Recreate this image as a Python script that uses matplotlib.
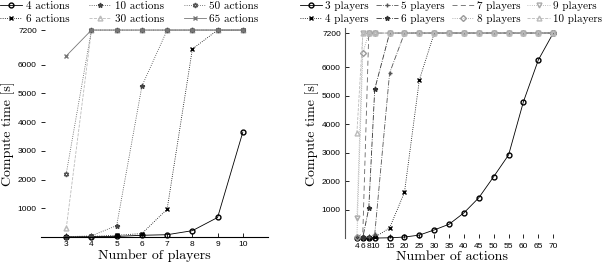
import matplotlib
matplotlib.use("Agg")
import matplotlib.pyplot as plt

# ---- left panel: time vs number of players, one line per action count
players = [3, 4, 5, 6, 7, 8, 9, 10]
t_4act = [5, 10, 20, 60, 80, 220, 680, 3650]
t_6act = [5, 20, 60, 120, 970, 6540, 7200, 7200]
t_10act = [10, 40, 400, 5250, 7200, 7200, 7200, 7200]
t_30act = [300, 7200, 7200, 7200, 7200, 7200, 7200, 7200]
t_50act = [2200, 7200, 7200, 7200, 7200, 7200, 7200, 7200]
t_65act = [6300, 7200, 7200, 7200, 7200, 7200, 7200, 7200]

# ---- right panel: time vs number of actions, one line per player count
actions = [4, 6, 8, 10, 15, 20, 25, 30, 35, 40, 45, 50, 55, 60, 65, 70]
t_3pl = [5, 5, 10, 15, 25, 50, 120, 300, 500, 900, 1430, 2170, 2930, 4800, 6260, 7200]
t_4pl = [5, 10, 20, 40, 370, 1620, 5560] + [7200] * 9
t_5pl = [5, 20, 60, 150, 5800] + [7200] * 11
t_6pl = [10, 40, 1060, 5235] + [7200] * 12
t_7pl = [20, 200] + [7200] * 14
t_8pl = [60, 6500] + [7200] * 14
t_9pl = [710] + [7200] * 15
t_10pl = [3690] + [7200] * 15

yticks = [1000, 2000, 3000, 4000, 5000, 6000, 7200]
right_xticks = [4, 6, 8, 10, 15, 20, 25, 30, 35, 40, 45, 50, 55, 60, 65, 70]

serif = "cmr10"
tickfont = "Liberation Sans"

fig = plt.figure(figsize=(6.12, 2.66), dpi=100)
ax1 = fig.add_axes([0.067, 0.109, 0.371, 0.778])
ax2 = fig.add_axes([0.5637, 0.1034, 0.350, 0.7916])

lw = 0.6
ms = 3.5

ax1.plot(players, t_4act, "-", marker="o", color="black", lw=lw, ms=ms, mfc="none", label="4 actions", clip_on=False)
ax1.plot(players, t_6act, ":", marker="x", color="black", lw=lw, ms=ms, label="6 actions", clip_on=False)
ax1.plot(players, t_10act, ":", marker="*", color="#444444", lw=lw, ms=ms, label="10 actions", clip_on=False)
ax1.plot(players, t_30act, "--", marker="^", color="#bbbbbb", lw=lw, ms=ms, mfc="none", label="30 actions", clip_on=False)
ax1.plot(players, t_50act, ":", marker=(6, 1, 0), color="#555555", lw=lw, ms=ms, mfc="none", label="50 actions", clip_on=False)
ax1.plot(players, t_65act, "-", marker="x", color="#777777", lw=lw, ms=ms, label="65 actions", clip_on=False)

ax1.set_xlim(2, 11)
ax1.set_ylim(0, 7200)
ax1.set_xticks(players)
ax1.set_yticks(yticks)
ax1.spines[["left", "top", "right"]].set_visible(False)
ax1.set_xlabel("Number of players", fontfamily=serif, fontsize=10, labelpad=1)
ax1.set_ylabel("Compute time [s]", fontfamily=serif, fontsize=10, labelpad=2)

ax2.plot(actions, t_3pl, "-", marker="o", color="black", lw=lw, ms=ms, mfc="none", label="3 players", clip_on=False)
ax2.plot(actions, t_4pl, ":", marker="x", color="black", lw=lw, ms=ms, label="4 players", clip_on=False)
ax2.plot(actions, t_5pl, "-.", marker="+", color="#555555", lw=lw, ms=ms, label="5 players", clip_on=False)
ax2.plot(actions, t_6pl, "-.", marker="*", color="#333333", lw=lw, ms=ms, label="6 players", clip_on=False)
ax2.plot(actions, t_7pl, ls=(0, (6, 4)), color="#666666", lw=lw, label="7 players", clip_on=False)
ax2.plot(actions, t_8pl, ":", marker="D", color="#999999", lw=lw, ms=3, mfc="none", label="8 players", clip_on=False)
ax2.plot(actions, t_9pl, ":", marker="v", color="#aaaaaa", lw=lw, ms=ms, mfc="none", label="9 players", clip_on=False)
ax2.plot(actions, t_10pl, "--", marker="^", color="#bbbbbb", lw=lw, ms=ms, mfc="none", label="10 players", clip_on=False)

ax2.set_xlim(0, 72)
ax2.set_ylim(0, 7380)
ax2.set_xticks(right_xticks)
ax2.set_yticks(yticks)
ax2.spines[["bottom", "top", "right"]].set_visible(False)
ax2.spines["left"].set_color("#555555")
ax2.set_xlabel("Number of actions", fontfamily=serif, fontsize=10, labelpad=1)
ax2.set_ylabel("Compute time [s]", fontfamily=serif, fontsize=10, labelpad=2)

for ax in (ax1, ax2):
    ax.tick_params(direction="in", length=3, width=0.6, labelsize=6, pad=3)
    for lab in ax.get_xticklabels() + ax.get_yticklabels():
        lab.set_fontfamily(tickfont)

leg_kw = dict(frameon=False, prop={"family": serif, "size": 8}, handlelength=2.0,
              handletextpad=0.3, borderpad=0, labelspacing=0.25, borderaxespad=0)
fig.legend(handles=ax1.get_lines(), ncol=3, loc="upper left", bbox_to_anchor=(0.0, 0.995),
           columnspacing=1.8, **leg_kw)
fig.legend(handles=ax2.get_lines(), ncol=4, loc="upper left", bbox_to_anchor=(0.49, 0.995),
           columnspacing=0.6, **leg_kw)

fig.savefig("out.png", dpi=100)
